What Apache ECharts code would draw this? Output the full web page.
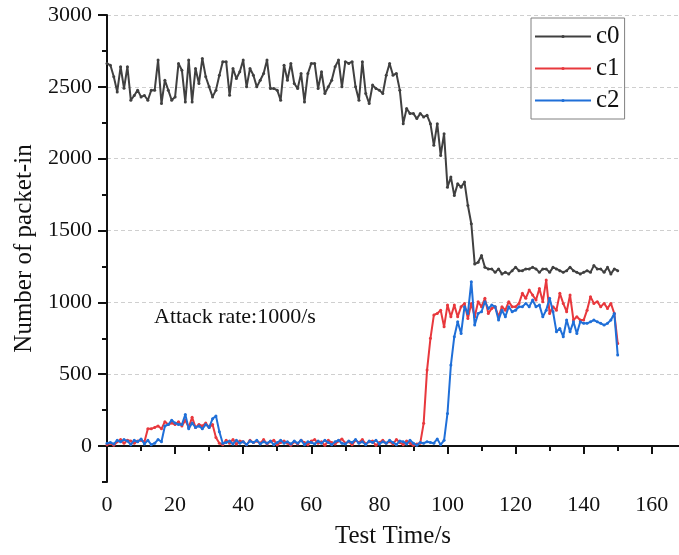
<!DOCTYPE html>
<html>
<head>
<meta charset="utf-8">
<script src="https://cdn.jsdelivr.net/npm/echarts@6/dist/echarts.min.js"></script>
<style>html,body{margin:0;padding:0;background:#fff}#chart{width:679px;height:555px}</style>
</head>
<body>
<div id="chart"></div>
<script>
const seriesNames = ['c0', 'c1', 'c2'];
const xTickLabels = [0, 20, 40, 60, 80, 100, 120, 140, 160];
const yTickLabels = [0, 500, 1000, 1500, 2000, 2500, 3000];
const annotation = 'Attack rate:1000/s';

const c0 = [
  2663, 2650, 2570, 2465, 2640, 2490, 2640, 2407, 2440, 2477,
  2430, 2440, 2407, 2477, 2477, 2686, 2384, 2546, 2477, 2407,
  2430, 2663, 2616, 2395, 2686, 2395, 2628, 2523, 2698, 2570,
  2500, 2430, 2477, 2581, 2675, 2675, 2442, 2628, 2558, 2605,
  2686, 2500, 2628, 2581, 2500, 2546, 2593, 2686, 2488, 2488,
  2477, 2407, 2651, 2546, 2663, 2523, 2488, 2593, 2395, 2593,
  2663, 2663, 2488, 2605, 2453, 2500, 2546, 2640, 2686, 2500,
  2675, 2663, 2675, 2500, 2407, 2675, 2453, 2384, 2512, 2488,
  2477, 2453, 2581, 2663, 2581, 2593, 2477, 2244, 2349, 2314,
  2314, 2279, 2314, 2291, 2302, 2244, 2093, 2244, 2023, 2174,
  1802, 1872, 1744, 1826, 1802, 1837, 1674, 1547, 1267, 1279,
  1326, 1244, 1233, 1233, 1209, 1233, 1198, 1209, 1198, 1221,
  1244, 1221, 1221, 1233, 1233, 1244, 1233, 1209, 1233, 1233,
  1209, 1244, 1233, 1221, 1209, 1221, 1244, 1221, 1209, 1198,
  1209, 1221, 1209, 1256, 1233, 1233, 1209, 1244, 1198, 1233, 1221
];
const c1 = [
  10, 20, 5, 30, 45, 20, 40, 35, 20, 35, 40,
  30, 120, 120, 130, 140, 120, 170, 150, 160, 150, 170, 140, 180, 130, 200, 130, 150, 140, 160, 130, 150, 60, 20, 10,
  40, 20, 45, 15, 35, 30, 10, 40, 25, 35,
  20, 45, 15, 30, 40, 10, 25, 35, 20, 5,
  30, 15, 40, 25, 10, 35, 45, 20, 30, 5,
  40, 25, 15, 35, 50, 20, 30, 10, 40, 25,
  45, 15, 30, 35, 5, 25, 40, 20, 30, 15,
  45, 25, 10, 35, 20, 5, 15,
  20, 158, 529, 750, 912, 923, 946, 830, 981, 900, 981, 900, 970, 993, 888, 993, 900, 1005, 970, 1028,
  923, 958, 970, 900, 970, 946, 1005, 970, 970, 993, 1063, 1028, 1086, 1051, 1016, 1097, 1005, 1155, 923, 970,
  946, 1063, 993, 935, 1051, 877, 900, 877, 877, 946, 1040, 993, 1005, 970, 993, 958, 993, 923, 714
];
const c2 = [
  20, 25, 15, 40, 30, 45, 35, 10, 40, 30, 50, 15, 40, 10, 20, 45, 30,
  140, 150, 180, 160, 150, 150, 220, 120, 160, 130, 140, 120, 150, 130, 190, 210, 100, 20,
  25, 35, 15, 40, 20, 30, 10, 35, 25, 40,
  15, 30, 20, 35, 10, 25, 40, 20, 30, 15,
  35, 20, 40, 10, 30, 25, 15, 35, 20, 40,
  25, 10, 30, 40, 20, 15, 35, 25, 45, 20,
  30, 10, 35, 25, 40, 15, 30, 20, 40, 25,
  10, 35, 30, 15, 40, 20, 5, 25, 20, 30,
  25, 20, 50, 10, 40,
  227, 564, 761, 865, 784, 970, 923, 1144, 842, 923,
  935, 1005, 958, 981, 970, 877, 946, 900, 970, 935,
  946, 970, 970, 993, 970, 1016, 970, 981, 900, 946,
  1028, 935, 796, 819, 761, 877, 796, 865, 784, 865,
  854, 854, 865, 877, 865, 854, 842, 854, 877, 923, 633
];

const colors = ['#404040', '#E8383D', '#1F6FD8'];
const FONT = '"Liberation Serif", "Times New Roman", serif';

function pairs(arr) { return arr.map((v, i) => [i, v]); }

const chart = echarts.init(document.getElementById('chart'), null, { renderer: 'canvas' });
const yMinor = [];
for (let v = -250; v <= 2750; v += 500) yMinor.push(v);
const xMinor = [];
for (let v = 10; v <= 150; v += 20) xMinor.push(v);

const splitColors = [];
for (let v = -250; v <= 3000; v += 250) splitColors.push(v === 3000 || v === -250 ? 'rgba(0,0,0,0)' : '#cfcfcf');

const option = {
  backgroundColor: '#ffffff',
  animation: false,
  color: colors,
  grid: { left: 107, top: 15, right: 0, bottom: 73, containLabel: false },
  legend: {
    data: seriesNames,
    orient: 'vertical',
    left: 531, top: 18,
    itemWidth: 56, itemHeight: 4, itemGap: 7,
    padding: [6, 5, 6, 3],
    borderColor: '#808080', borderWidth: 1,
    textStyle: { fontFamily: FONT, fontSize: 25, color: '#111', padding: [0, 0, 0, 0] }
  },
  xAxis: [{
    type: 'value', min: 0, max: 168,
    name: 'Test Time/s', nameLocation: 'middle', nameGap: 42,
    nameTextStyle: { fontFamily: FONT, fontSize: 25, color: '#111' },
    axisLine: { show: true, lineStyle: { color: '#111', width: 2 } },
    axisTick: { show: true, length: 8, customValues: xTickLabels, lineStyle: { color: '#111', width: 2 } },
    axisLabel: { customValues: xTickLabels, formatter: v => String(v), fontFamily: FONT, fontSize: 22, color: '#111', margin: 12 },
    splitLine: { show: false }
  }, {
    type: 'value', min: 0, max: 168, position: 'bottom',
    axisLine: { show: false },
    axisTick: { show: true, length: 5, customValues: xMinor, lineStyle: { color: '#111', width: 2 } },
    axisLabel: { show: false },
    splitLine: { show: false }
  }],
  yAxis: [{
    type: 'value', min: -250, max: 3000, interval: 250,
    name: 'Number of packet-in', nameLocation: 'middle', nameGap: 66,
    nameTextStyle: { fontFamily: FONT, fontSize: 25, color: '#111' },
    axisLine: { show: true, lineStyle: { color: '#111', width: 2 } },
    axisTick: { show: true, length: 9, customValues: yTickLabels, lineStyle: { color: '#111', width: 2 } },
    axisLabel: { customValues: yTickLabels, formatter: v => String(v), fontFamily: FONT, fontSize: 22, color: '#111', margin: 15 },
    splitLine: { show: true, lineStyle: { color: splitColors, type: [4, 3], width: 1 } }
  }, {
    type: 'value', min: -250, max: 3000, interval: 250, position: 'left',
    axisLine: { show: false },
    axisTick: { show: true, length: 5, customValues: yMinor, lineStyle: { color: '#111', width: 2 } },
    axisLabel: { show: false },
    splitLine: { show: false }
  }],
  graphic: [{
    type: 'text', left: 154, top: 306,
    style: { text: annotation, font: '22px ' + FONT, fill: '#111' }
  }],
  series: [
    { name: 'c0', type: 'line', data: pairs(c0), symbol: 'circle', symbolSize: 3, showSymbol: true,
      lineStyle: { width: 2, color: colors[0] }, itemStyle: { color: colors[0] }, z: 3 },
    { name: 'c1', type: 'line', data: pairs(c1), symbol: 'circle', symbolSize: 3, showSymbol: true,
      lineStyle: { width: 2, color: colors[1] }, itemStyle: { color: colors[1] }, z: 4 },
    { name: 'c2', type: 'line', data: pairs(c2), symbol: 'circle', symbolSize: 3, showSymbol: true,
      lineStyle: { width: 2, color: colors[2] }, itemStyle: { color: colors[2] }, z: 5 }
  ]
};
chart.setOption(option);
</script>
</body>
</html>
